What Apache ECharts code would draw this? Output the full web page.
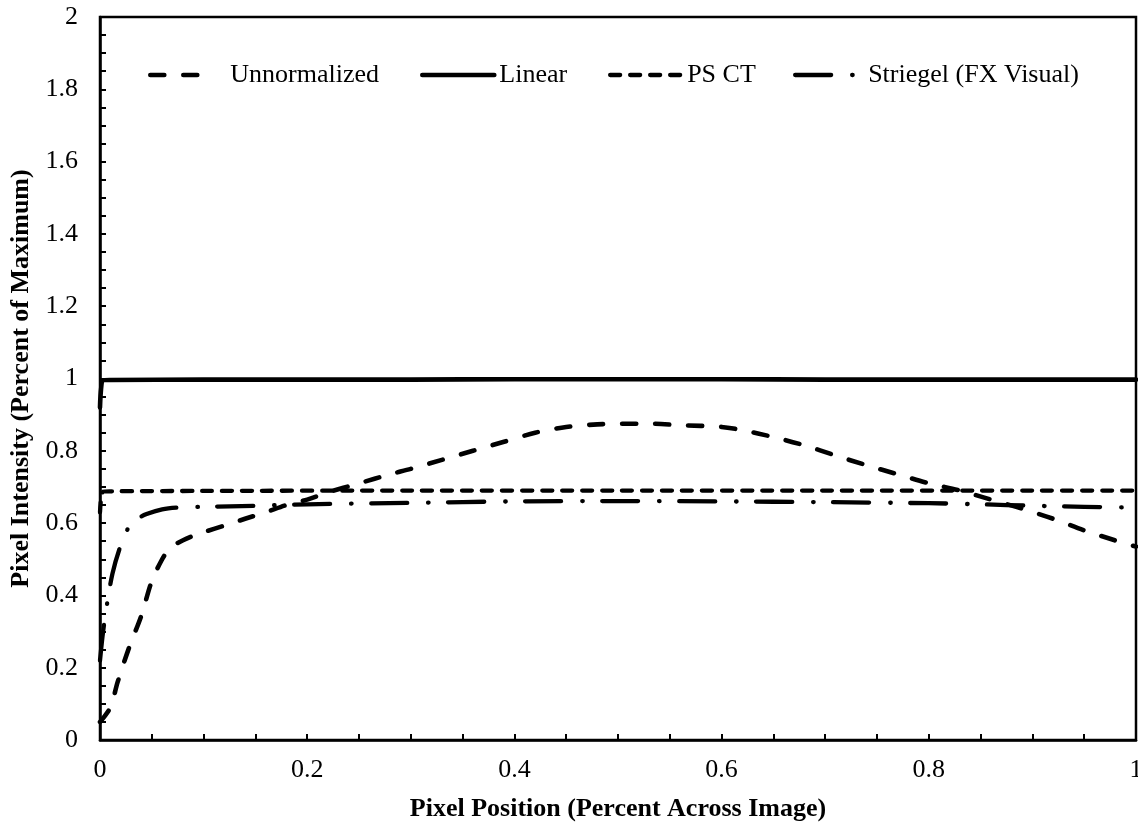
<!DOCTYPE html>
<html>
<head>
<meta charset="utf-8">
<script src="https://cdn.jsdelivr.net/npm/echarts@6/dist/echarts.min.js"></script>
<style>
html,body{margin:0;padding:0;background:#fff;}
#chart{width:1138px;height:825px;}
</style>
</head>
<body>
<div id="chart"></div>
<script>
const seriesNames = ['Unnormalized', 'Linear', 'PS CT', 'Striegel (FX Visual)'];
const xTickLabels = ['0', '0.2', '0.4', '0.6', '0.8', '1'];
const yTickLabels = ['0', '0.2', '0.4', '0.6', '0.8', '1', '1.2', '1.4', '1.6', '1.8', '2'];

const unnormX = [0, 0.01, 0.017, 0.028, 0.04, 0.05, 0.06, 0.066, 0.075, 0.09, 0.1, 0.12, 0.14, 0.16, 0.18, 0.2, 0.22, 0.25, 0.28, 0.3, 0.33, 0.36, 0.39, 0.42, 0.45, 0.48, 0.5, 0.53, 0.56, 0.6, 0.62, 0.65, 0.68, 0.71, 0.74, 0.77, 0.8, 0.83, 0.86, 0.89, 0.92, 0.95, 0.98, 1];
const unnormY = [0.05, 0.09, 0.16, 0.255, 0.345, 0.44, 0.5, 0.525, 0.545, 0.565, 0.575, 0.593, 0.612, 0.63, 0.65, 0.665, 0.685, 0.71, 0.735, 0.75, 0.775, 0.8, 0.825, 0.85, 0.866, 0.873, 0.875, 0.875, 0.871, 0.866, 0.857, 0.838, 0.815, 0.787, 0.76, 0.735, 0.71, 0.69, 0.665, 0.64, 0.612, 0.58, 0.552, 0.535];

const linearX = [0, 0.003, 0.01, 0.1, 0.2, 0.3, 0.4, 0.5, 0.6, 0.7, 0.8, 0.9, 1];
const linearY = [0.92, 0.995, 0.996, 0.997, 0.997, 0.997, 0.998, 0.998, 0.998, 0.997, 0.997, 0.997, 0.997];

const psctX = [0, 0.003, 0.01, 0.1, 0.3, 0.5, 0.7, 0.9, 1];
const psctY = [0.63, 0.687, 0.688, 0.689, 0.69, 0.69, 0.69, 0.69, 0.69];

const striegelX = [0, 0.003, 0.007, 0.012, 0.019, 0.027, 0.035, 0.045, 0.06, 0.075, 0.1, 0.15, 0.2, 0.3, 0.4, 0.5, 0.6, 0.7, 0.8, 0.85, 0.9, 0.95, 1];
const striegelY = [0.22, 0.3, 0.38, 0.46, 0.53, 0.585, 0.61, 0.625, 0.638, 0.643, 0.645, 0.648, 0.652, 0.656, 0.66, 0.661, 0.66, 0.658, 0.655, 0.652, 0.648, 0.645, 0.643];

function pairs(xs, ys) { return xs.map((x, i) => [x, ys[i]]); }

const FONT = '"Liberation Serif", "Times New Roman", serif';
const styles = [
  { type: [14, 19], width: 4.6 },
  { type: 'solid', width: 4.6 },
  { type: [10, 10], width: 4.3 },
  { type: [36, 21, 0.5, 19.5], width: 4.3 }
];
const dataSets = [pairs(unnormX, unnormY), pairs(linearX, linearY), pairs(psctX, psctY), pairs(striegelX, striegelY)];

const legendDefs = [
  { left: 148, itemWidth: 57, pad: 18 },
  { left: 420, itemWidth: 72, pad: 0 },
  { left: 608, itemWidth: 72, pad: 0 },
  { left: 793, itemWidth: 58, pad: 10 }
];

const chart = echarts.init(document.getElementById('chart'), null, { renderer: 'canvas' });
chart.setOption({
  animation: false,
  backgroundColor: '#fff',
  grid: { left: 100, right: 2, top: 17, bottom: 85, containLabel: false, outerBoundsMode: 'none',
    show: true, borderColor: '#000', borderWidth: 2.5, backgroundColor: 'transparent' },
  legend: legendDefs.map((d, i) => ({
    data: [seriesNames[i]],
    left: d.left,
    top: 62,
    itemWidth: d.itemWidth,
    itemHeight: 14,
    padding: 0,
    itemStyle: { opacity: 0, color: 'transparent', borderWidth: 0 },
    lineStyle: { width: styles[i].width, type: styles[i].type, cap: 'round', color: '#000', opacity: 1 },
    textStyle: { fontFamily: FONT, fontSize: 26, color: '#000', padding: [0, 0, 0, d.pad] }
  })),
  xAxis: {
    type: 'value', min: 0, max: 1, interval: 0.2,
    name: 'Pixel Position (Percent Across Image)', nameLocation: 'middle', nameGap: 56,
    nameTextStyle: { fontFamily: FONT, fontSize: 26, fontWeight: 'bold', color: '#000' },
    axisLine: { show: true, onZero: false, lineStyle: { color: '#000', width: 2.5 } },
    axisTick: { show: true, inside: true, length: 6, lineStyle: { color: '#000', width: 2 } },
    minorTick: { show: true, splitNumber: 4, length: 6, lineStyle: { color: '#000', width: 2 } },
    splitLine: { show: false },
    axisLabel: { margin: 17, fontFamily: FONT, fontSize: 26, color: '#000', showMaxLabel: true,
      formatter: v => xTickLabels[Math.round(v / 0.2)] }
  },
  yAxis: {
    type: 'value', min: 0, max: 2, interval: 0.2,
    name: 'Pixel Intensity (Percent of Maximum)', nameLocation: 'middle', nameGap: 66,
    nameTextStyle: { fontFamily: FONT, fontSize: 26, fontWeight: 'bold', color: '#000' },
    axisLine: { show: true, onZero: false, lineStyle: { color: '#000', width: 2.5 } },
    axisTick: { show: true, inside: true, length: 6, lineStyle: { color: '#000', width: 2 } },
    minorTick: { show: true, splitNumber: 4, length: 6, lineStyle: { color: '#000', width: 2 } },
    splitLine: { show: false },
    axisLabel: { margin: 22, fontFamily: FONT, fontSize: 26, color: '#000',
      formatter: v => yTickLabels[Math.round(v / 0.2)] }
  },
  series: seriesNames.map((n, i) => ({
    name: n, type: 'line', data: dataSets[i], symbol: 'none', smooth: 0.3,
    lineStyle: { color: '#000', width: styles[i].width, type: styles[i].type, cap: 'round', join: 'round' },
    itemStyle: { color: '#000' }
  }))
});
</script>
</body>
</html>
